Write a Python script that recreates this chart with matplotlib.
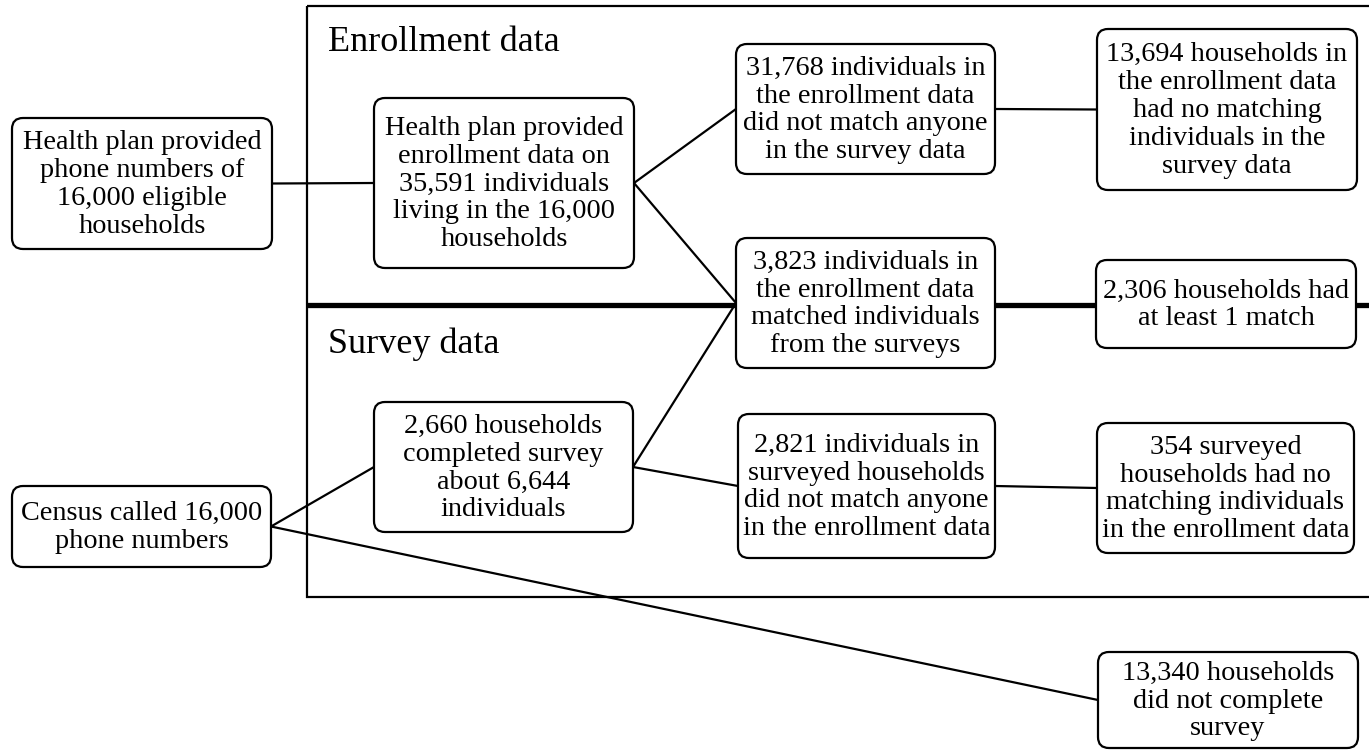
import matplotlib
matplotlib.use("Agg")
import matplotlib.pyplot as plt
from matplotlib.patches import FancyBboxPatch, Rectangle

plt.rcParams['font.family'] = ['Liberation Serif', 'DejaVu Serif']

# ---- content ----
section_titles = ["Enrollment data", "Survey data"]
box_ids = ["A", "B", "C", "D", "E", "F", "G", "H", "I", "J", "K"]
box_texts = [
    "Health plan provided\nphone numbers of\n16,000 eligible\nhouseholds",
    "Health plan provided\nenrollment data on\n35,591 individuals\nliving in the 16,000\nhouseholds",
    "31,768 individuals in\nthe enrollment data\ndid not match anyone\nin the survey data",
    "13,694 households in\nthe enrollment data\nhad no matching\nindividuals in the\nsurvey data",
    "3,823 individuals in\nthe enrollment data\nmatched individuals\nfrom the surveys",
    "2,306 households had\nat least 1 match",
    "2,660 households\ncompleted survey\nabout 6,644\nindividuals",
    "Census called 16,000\nphone numbers",
    "13,340 households\ndid not complete\nsurvey",
    "2,821 individuals in\nsurveyed households\ndid not match anyone\nin the enrollment data",
    "354 surveyed\nhouseholds had no\nmatching individuals\nin the enrollment data",
]
edges = [("A", "B"), ("B", "C"), ("B", "E"), ("C", "D"), ("G", "E"),
         ("G", "J"), ("J", "K"), ("H", "G"), ("H", "I")]

# ---- layout (pixel coordinates, y downward) ----
layout = {
    "A": (12, 118, 272, 249),
    "B": (374, 98, 634, 268),
    "C": (736, 44, 995, 174),
    "D": (1097, 29, 1357, 190),
    "E": (736, 238, 995, 368),
    "F": (1096, 260, 1356, 348),
    "G": (374, 402, 633, 532),
    "H": (12, 486, 271, 567),
    "I": (1098, 652, 1358, 748),
    "J": (738, 414, 995, 558),
    "K": (1097, 423, 1354, 553),
}

W, H = 1369, 750
fig = plt.figure(figsize=(W / 100, H / 100), dpi=100)
ax = fig.add_axes([0, 0, 1, 1])
ax.set_xlim(0, W)
ax.set_ylim(H, 0)
ax.axis("off")

# outer frame
ax.add_patch(Rectangle((307, 6), 1100, 591, fill=False, lw=1.6, ec="black", zorder=1))
# thick divider
ax.plot([307, W], [305, 305], color="black", lw=3.8, solid_capstyle="butt", zorder=1)

ax.text(328, 51, section_titles[0], fontsize=26, ha="left", va="baseline")
ax.text(328, 353, section_titles[1], fontsize=26, ha="left", va="baseline")

def center(b):
    x0, y0, x1, y1 = layout[b]
    return (x0 + x1) / 2, (y0 + y1) / 2

for s, t in edges:
    sx0, sy0, sx1, sy1 = layout[s]
    tx0, ty0, tx1, ty1 = layout[t]
    p = (sx1, (sy0 + sy1) / 2)
    q = (tx0, (ty0 + ty1) / 2)
    ax.plot([p[0], q[0]], [p[1], q[1]], color="black", lw=1.6, zorder=2)

for bid, txt in zip(box_ids, box_texts):
    x0, y0, x1, y1 = layout[bid]
    r = 11
    patch = FancyBboxPatch((x0 + r, y0 + r), (x1 - x0) - 2 * r, (y1 - y0) - 2 * r,
                           boxstyle=f"round,pad={r},rounding_size={r}",
                           fc="white", ec="black", lw=1.6, zorder=3)
    ax.add_patch(patch)
    cx, cy = center(bid)
    ax.text(cx, cy + 1, txt, fontsize=20.3, ha="center", va="center",
            linespacing=1.15, zorder=4)

fig.savefig("out.png", dpi=100)
